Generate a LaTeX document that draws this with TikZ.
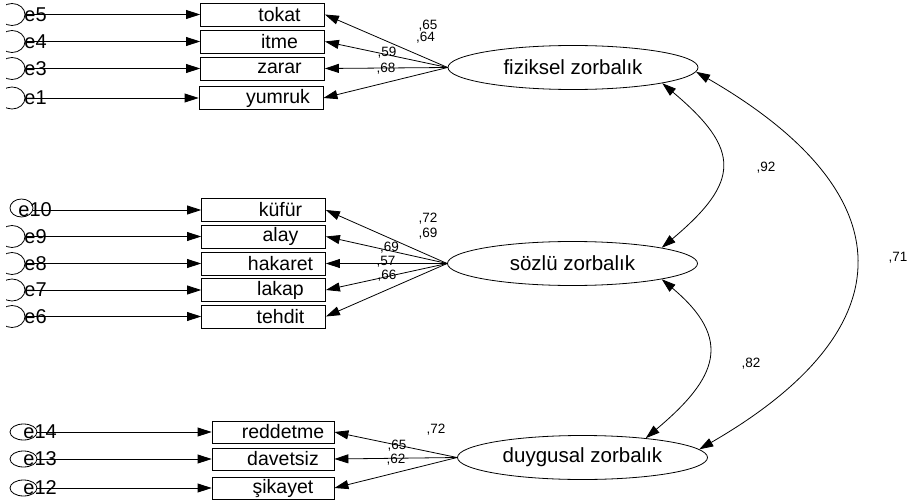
\documentclass[tikz,border=0pt]{standalone}
\usepackage{fontspec}
\setmainfont{Liberation Sans}
\usetikzlibrary{positioning,shapes.geometric,arrows.meta}

\tikzset{
  obs/.style={draw, rectangle, minimum width=124pt, minimum height=23pt, inner sep=0pt, font=\fontsize{19.5}{20}\selectfont},
  lat/.style={draw, ellipse, minimum width=250pt, minimum height=44pt, inner sep=0pt, font=\fontsize{20.5}{21}\selectfont},
  err/.style={draw, ellipse, minimum width=26pt, minimum height=22pt, inner sep=0pt},
  elbl/.style={anchor=west, inner sep=0pt, font=\fontsize{20}{21}\selectfont},
  coef/.style={inner sep=0pt, font=\fontsize{13.5}{14}\selectfont},
}
\newcommand{\obstxt}[2][34pt]{\hspace*{#1}#2}

\begin{document}
\begin{tikzpicture}[x=1pt, y=-1pt, line width=0.8pt, >={Triangle[length=14pt,width=9pt]}]
  \useasboundingbox (0,0) rectangle (907,500);

  % Latent factors
  \node[lat] (fiz) at (573,67.5) {fiziksel zorbalık};
  \node[lat] (soz) at (572.5,263.5) {sözlü zorbalık};
  \node[lat] (duy) at (582.5,457.5) {duygusal zorbalık};

  % Observed items
  \node[obs] (tokat) at (262.5,14.5) {\obstxt{tokat}};
  \node[obs] (itme) at (262.5,41.5) {\obstxt{itme}};
  \node[obs] (zarar) at (262.5,68.5) {\obstxt{zarar}};
  \node[obs] (yumruk) at (261,98) {\obstxt{yumruk}};

  \node[obs] (kufur) at (263.5,210) {\obstxt{küfür}};
  \node[obs] (alay) at (263.5,236.5) {\obstxt{alay}};
  \node[obs] (hakaret) at (263.5,263.5) {\obstxt{hakaret}};
  \node[obs] (lakap) at (263.5,290) {\obstxt{lakap}};
  \node[obs] (tehdit) at (263.5,316.5) {\obstxt{tehdit}};

  \node[obs, minimum width=122pt, minimum height=22pt] (reddetme) at (273,432) {\obstxt[20pt]{reddetme}};
  \node[obs, minimum width=122pt, minimum height=22pt] (davetsiz) at (273,459) {\obstxt[20pt]{davetsiz}};
  \node[obs, minimum width=122pt, minimum height=22pt] (sikayet) at (273,488) {\obstxt[20pt]{şikayet}};

  % Error terms (left part cut off by the page edge)
  \begin{scope}
    \clip (6,0) rectangle (100,500);
    \node[err] (e5) at (12,14.5) {};
    \node[err] (e4) at (12,41.5) {};
    \node[err] (e3) at (12,68.5) {};
    \node[err] (e1) at (12,98) {};
    \node[err] (e9) at (12,236.5) {};
    \node[err] (e8) at (12,263.5) {};
    \node[err] (e7) at (12,290) {};
    \node[err] (e6) at (12,316.5) {};
  \end{scope}
  \node[err, minimum width=23pt, minimum height=18pt] (e10) at (21.5,208) {};
  \node[err, minimum width=27pt, minimum height=16pt] (e14) at (23.5,432) {};
  \node[err, minimum width=27pt, minimum height=16pt] (e13) at (23.5,459) {};
  \node[err, minimum width=27pt, minimum height=16pt] (e12) at (23.5,488) {};

  \node[elbl] (e5l) at (24,14.5) {e5};
  \node[elbl] (e4l) at (24,41.5) {e4};
  \node[elbl] (e3l) at (24,68.5) {e3};
  \node[elbl] (e1l) at (24,98) {e1};
  \node[elbl] (e10l) at (18,210) {e10};
  \node[elbl] (e9l) at (24,236.5) {e9};
  \node[elbl] (e8l) at (24,263.5) {e8};
  \node[elbl] (e7l) at (24,290) {e7};
  \node[elbl] (e6l) at (24,316.5) {e6};
  \node[elbl] (e14l) at (23,432) {e14};
  \node[elbl] (e13l) at (23,459) {e13};
  \node[elbl] (e12l) at (23,488) {e12};

  % Error paths
  \draw[->] (e5) -- (tokat);
  \draw[->] (e4) -- (itme);
  \draw[->] (e3) -- (zarar);
  \draw[->] (e1) -- (yumruk);
  \draw[->] (e10.east |- kufur) -- (kufur);
  \draw[->] (e9) -- (alay);
  \draw[->] (e8) -- (hakaret);
  \draw[->] (e7) -- (lakap);
  \draw[->] (e6) -- (tehdit);
  \draw[->] (e14) -- (reddetme);
  \draw[->] (e13) -- (davetsiz);
  \draw[->] (e12) -- (sikayet);

  % Loadings
  \draw[->] (fiz.west) -- (tokat.east);
  \draw[->] (fiz.west) -- (itme.east);
  \draw[->] (fiz.west) -- (zarar.east);
  \draw[->] (fiz.west) -- (yumruk.east);
  \draw[->] (soz.west) -- (kufur.east);
  \draw[->] (soz.west) -- (alay.east);
  \draw[->] (soz.west) -- (hakaret.east);
  \draw[->] (soz.west) -- (lakap.east);
  \draw[->] (soz.west) -- (tehdit.east);
  \draw[->] (duy.west) -- (reddetme.east);
  \draw[->] (duy.west) -- (davetsiz.east);
  \draw[->] (duy.west) -- (sikayet.east);

  \node[coef] (c65) at (428,26) {,65};
  \node[coef] (c64) at (425.5,38) {,64};
  \node[coef] (c59) at (387,53) {,59};
  \node[coef] (c68) at (386,69) {,68};
  \node[coef] (c72) at (428,219) {,72};
  \node[coef] (c69a) at (428,233.5) {,69};
  \node[coef] (c69b) at (389.5,248) {,69};
  \node[coef] (c57) at (386,262) {,57};
  \node[coef] (c66) at (387,275.5) {,66};
  \node[coef] (c72b) at (436,430) {,72};
  \node[coef] (c65b) at (397,446) {,65};
  \node[coef] (c62) at (396,459.5) {,62};

  % Covariances
  \draw[<->] (fiz.-10) to[out=-40, in=40, looseness=1.6] (soz.10);
  \draw[<->] (soz.-10) to[out=-40, in=40, looseness=1.5] (duy.17);
  \draw[<->] (fiz.-2) to[out=-30, in=30, looseness=1.64] (duy.4);

  \node[coef] (r92) at (766,168) {,92};
  \node[coef] (r82) at (751,363.5) {,82};
  \node[coef] (r71) at (898,258) {,71};
\end{tikzpicture}
\end{document}
